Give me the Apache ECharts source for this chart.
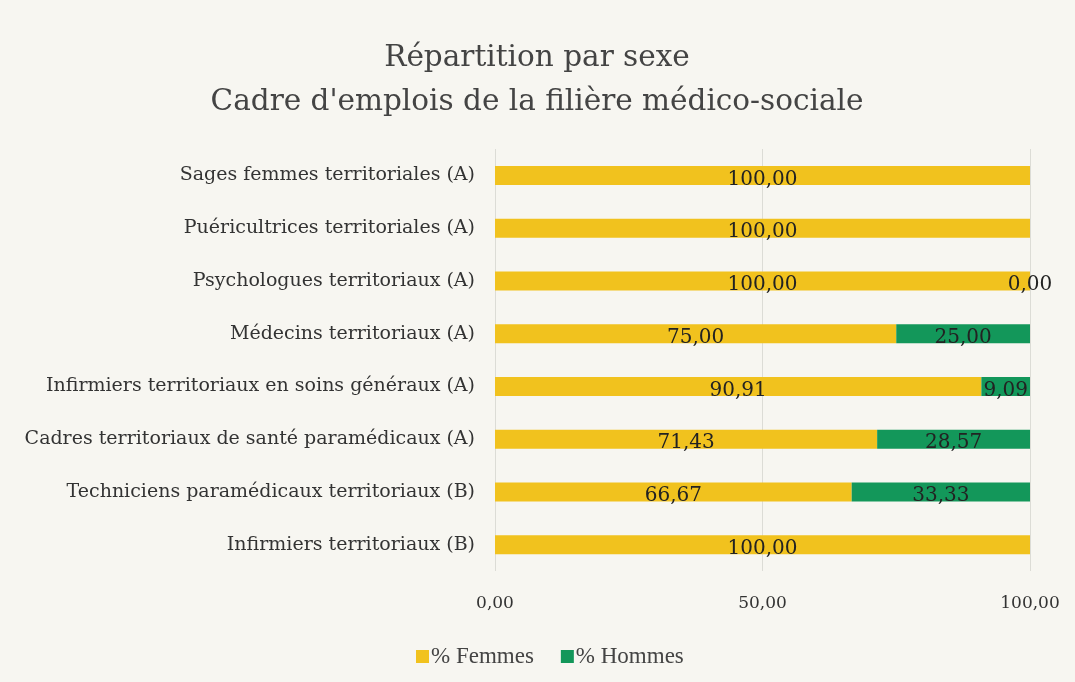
<!DOCTYPE html>
<html>
<head>
<meta charset="utf-8">
<title>Répartition par sexe</title>
<script src="https://cdn.jsdelivr.net/npm/echarts@6/dist/echarts.min.js"></script>
<style>
  html, body { margin: 0; padding: 0; background: #f7f6f1; }
  #chart { width: 1075px; height: 682px; }
</style>
</head>
<body>
<div id="chart"></div>
<script>
// catégories, du haut vers le bas
const categories = [
  "Sages femmes territoriales (A)",
  "Puéricultrices territoriales (A)",
  "Psychologues territoriaux (A)",
  "Médecins territoriaux (A)",
  "Infirmiers territoriaux en soins généraux (A)",
  "Cadres territoriaux de santé paramédicaux (A)",
  "Techniciens paramédicaux territoriaux (B)",
  "Infirmiers territoriaux (B)",
];
const femmes = [100, 100, 100, 75, 90.91, 71.43, 66.67, 100];
const hommes = [null, null, 0, 25, 9.09, 28.57, 33.33, null];

const fmt = (v) => v.toFixed(2).replace(".", ",");
const serif = "DejaVu Serif";

const chart = echarts.init(document.getElementById("chart"));

const labelStyle = {
  show: true,
  position: "inside",
  fontFamily: serif,
  fontSize: 20,
  color: "#222",
  offset: [0, 4],
  formatter: (p) => (p.value == null ? "" : fmt(p.value)),
};

chart.setOption({
  backgroundColor: "#f7f6f1",
  textStyle: { fontFamily: serif },
  title: {
    text: "Répartition par sexe\nCadre d'emplois de la filière médico-sociale",
    left: 532,
    top: 31,
    textAlign: "center",
    textStyle: {
      fontFamily: serif,
      fontSize: 29.5,
      fontWeight: "normal",
      color: "#444",
      lineHeight: 44,
    },
  },
  legend: {
    data: ["% Femmes", "% Hommes"],
    left: 411,
    top: 640,
    itemWidth: 13,
    itemHeight: 13,
    itemGap: 27,
    icon: "rect",
    textStyle: { fontFamily: "Liberation Serif", fontSize: 23, color: "#444", padding: [0, 0, 0, -3] },
  },
  grid: {
    left: 495,
    right: 45,
    top: 149,
    bottom: 111,
  },
  xAxis: {
    type: "value",
    min: 0,
    max: 100,
    interval: 50,
    axisLine: { show: false },
    axisTick: { show: false },
    splitLine: { lineStyle: { color: "#dcdcd6", width: 1 } },
    axisLabel: {
      margin: 24,
      fontFamily: serif,
      fontSize: 17,
      color: "#333",
      formatter: (v) => fmt(v),
    },
  },
  yAxis: {
    type: "category",
    data: categories,
    inverse: true,
    axisLine: { show: false },
    axisTick: { show: false },
    axisLabel: {
      margin: 20,
      fontFamily: serif,
      fontSize: 19,
      color: "#333",
    },
  },
  series: [
    {
      name: "% Femmes",
      type: "bar",
      stack: "total",
      barWidth: 19,
      itemStyle: { color: "#f1c21e" },
      label: labelStyle,
      data: femmes,
    },
    {
      name: "% Hommes",
      type: "bar",
      stack: "total",
      barWidth: 19,
      itemStyle: { color: "#13975a" },
      label: labelStyle,
      data: hommes,
    },
  ],
});

window.onresize = function () {
  chart.resize();
};
</script>
</body>
</html>
